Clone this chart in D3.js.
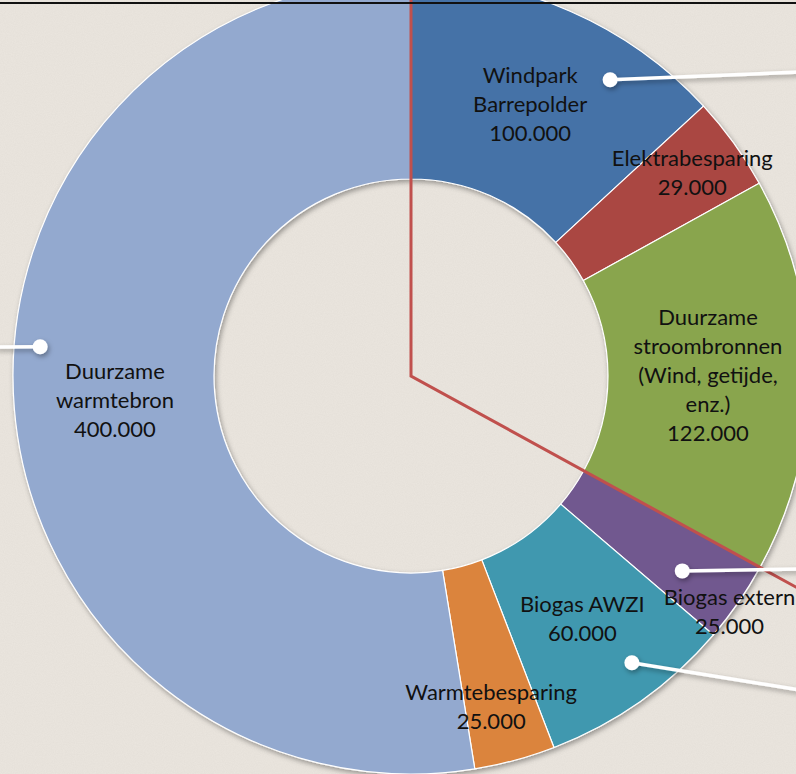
<!DOCTYPE html>
<html>
<head>
<meta charset="utf-8">
<script src="https://cdn.jsdelivr.net/npm/d3@7"></script>
<style>
  html, body { margin: 0; padding: 0; background: #ebe6df; }
  #chart { width: 796px; height: 774px; overflow: hidden; }
  .label { font-family: Lato, "Open Sans", sans-serif; font-size: 22px; fill: #111; }
</style>
</head>
<body>
<div id="chart"></div>
<script>
// slice data, clockwise from 12 o'clock
const names = ["Windpark Barrepolder", "Elektrabesparing", "Duurzame stroombronnen", "Biogas extern",
               "Biogas AWZI", "Warmtebesparing", "Duurzame warmtebron"];
const values = [100000, 29000, 122000, 25000, 60000, 25000, 400000];
const labelLines = [
    ["Windpark", "Barrepolder"],
    ["Elektrabesparing"],
    ["Duurzame", "stroombronnen", "(Wind, getijde,", "enz.)"],
    ["Biogas extern"],
    ["Biogas AWZI"],
    ["Warmtebesparing"],
    ["Duurzame", "warmtebron"]
];
const colors = ["#4572A7", "#AA4643", "#89A54E", "#71588F", "#4198AF", "#DB843D", "#93A9CF"];

const width = 796, height = 774;
const cx = 411, cy = 376;
const outerR = 398, innerR = 197;

// label distance from centre
const labelR = [297, 347, 297, 396, 297, 340, 297];
const labelAngleShift = [0, 0, 0, 1.8, 0, 1.5, 0]; // degrees

// callout dots (slice index, angle deg, radius) and where their lines leave the frame
const callouts = [
    {slice: 0, angle: 33.9, r: 357, end: [800, 72]},
    {slice: 6, angle: 274.5, r: 372, end: [-4, 347]},
    {slice: 3, angle: 125.7, r: 334, end: [800, 569]},
    {slice: 4, angle: 142.4, r: 362, end: [800, 690]}
];

const fmt = v => d3.format(",")(v).replace(/,/g, ".");

const svg = d3.select("#chart").append("svg")
    .attr("width", width).attr("height", height);

const defs = svg.append("defs");
const paper = defs.append("filter").attr("id", "paper").attr("x", 0).attr("y", 0)
    .attr("width", 1).attr("height", 1);
paper.append("feTurbulence").attr("type", "fractalNoise").attr("baseFrequency", 0.9)
    .attr("numOctaves", 2).attr("seed", 3).attr("result", "noise");
paper.append("feColorMatrix").attr("in", "noise").attr("type", "matrix")
    .attr("values", "0 0 0 0 0.45  0 0 0 0 0.42  0 0 0 0 0.38  0 0 0 0.12 0");

const shadow = defs.append("filter").attr("id", "shadow")
    .attr("x", "-20%").attr("y", "-20%").attr("width", "140%").attr("height", "140%");
shadow.append("feDropShadow").attr("dx", 1.5).attr("dy", 2.5).attr("stdDeviation", 2.5)
    .attr("flood-color", "#000").attr("flood-opacity", 0.35);

svg.append("rect").attr("width", width).attr("height", height).attr("fill", "#ebe6df");
svg.append("rect").attr("width", width).attr("height", height).attr("filter", "url(#paper)");

const rad = d => d * Math.PI / 180;
const polar = (angleDeg, r) => [cx + r * Math.sin(rad(angleDeg)), cy - r * Math.cos(rad(angleDeg))];

const pie = d3.pie().sort(null).value(d => d)(values);
const arc = d3.arc().innerRadius(innerR).outerRadius(outerR);

const donut = svg.append("g").attr("transform", `translate(${cx},${cy})`);

donut.append("g").attr("filter", "url(#shadow)")
    .selectAll("path")
    .data(pie)
    .join("path")
    .attr("d", arc)
    .attr("fill", (d, i) => colors[i])
    .attr("stroke", "#fff")
    .attr("stroke-width", 1.2);

// red "clock hands": 12 o'clock and end of the electricity share
const splitAngle = pie[2].endAngle * 180 / Math.PI;
const handLen = 520;
const handTop = polar(0, handLen), handEnd = polar(splitAngle, handLen);
svg.append("path")
    .attr("d", `M${handTop[0]},${handTop[1]}L${cx},${cy}L${handEnd[0]},${handEnd[1]}`)
    .attr("fill", "none")
    .attr("stroke", "#C0504D")
    .attr("stroke-width", 3);

// labels
const labels = svg.append("g");
pie.forEach((d, i) => {
    const mid = (d.startAngle + d.endAngle) / 2 * 180 / Math.PI + labelAngleShift[i];
    const [x, y] = polar(mid, labelR[i]);
    const lines = labelLines[i].concat([fmt(values[i])]);
    const lh = 29;
    const t = labels.append("text").attr("class", "label").attr("text-anchor", "middle");
    lines.forEach((s, k) => {
        t.append("tspan").attr("x", x)
            .attr("y", y + (k - (lines.length - 1) / 2) * lh + 8)
            .text(s);
    });
});

// callouts
const co = svg.append("g").attr("filter", "url(#shadow)");
callouts.forEach(c => {
    const [x, y] = polar(c.angle, c.r);
    co.append("line").attr("x1", x).attr("y1", y).attr("x2", c.end[0]).attr("y2", c.end[1])
        .attr("stroke", "#fff").attr("stroke-width", 3.5);
    co.append("circle").attr("cx", x).attr("cy", y).attr("r", 7.5).attr("fill", "#fff");
});

// frame edge at top
svg.append("line").attr("x1", 0).attr("x2", width).attr("y1", 3).attr("y2", 3)
    .attr("stroke", "#111").attr("stroke-width", 2);
</script>
</body>
</html>
